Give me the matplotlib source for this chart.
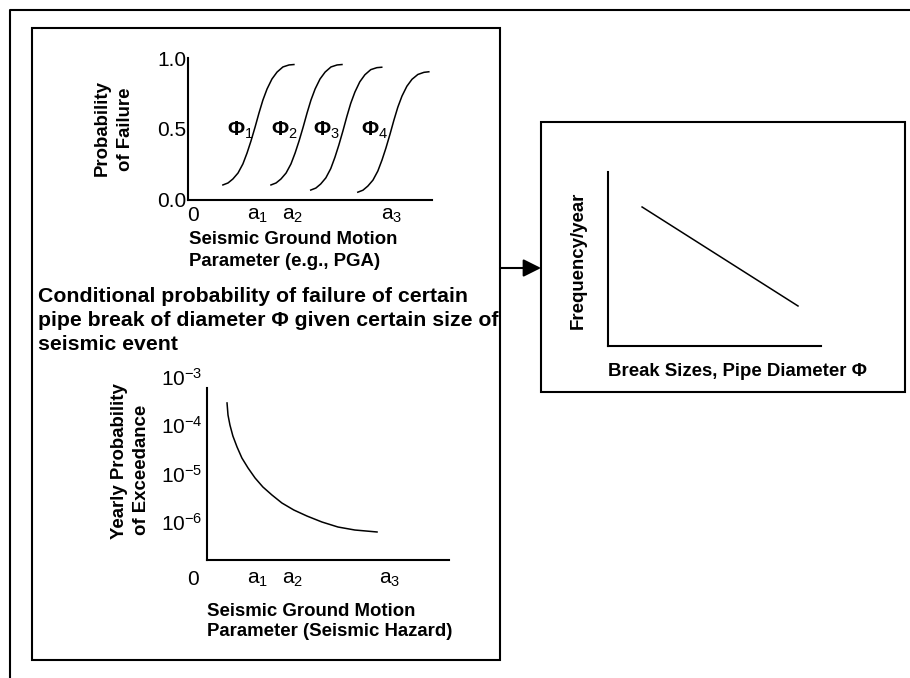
import matplotlib
matplotlib.use('Agg')
import matplotlib.pyplot as plt
from matplotlib.patches import Rectangle
from matplotlib.ticker import NullLocator

plt.rcParams['font.family'] = ['Liberation Sans', 'DejaVu Sans']
plt.rcParams['mathtext.fontset'] = 'custom'
plt.rcParams['mathtext.rm'] = 'Liberation Sans'
plt.rcParams['mathtext.bf'] = 'Liberation Sans:bold'
plt.rcParams['mathtext.it'] = 'Liberation Sans:italic'

# ---------------- data ----------------
# fragility curves: ground motion (arbitrary units) vs probability of failure
phi1_x = [1.43, 1.64, 1.84, 2.05, 2.25, 2.42, 2.58, 2.75, 2.91, 3.07, 3.24, 3.44, 3.65, 3.89, 4.14, 4.34]
phi1_y = [0.106, 0.120, 0.148, 0.190, 0.254, 0.331, 0.415, 0.514, 0.613, 0.704, 0.782, 0.852, 0.901, 0.937, 0.951, 0.954]
phi2_x = [3.40, 3.61, 3.81, 4.02, 4.22, 4.39, 4.55, 4.72, 4.88, 5.04, 5.21, 5.41, 5.62, 5.86, 6.11, 6.31]
phi2_y = [0.106, 0.120, 0.148, 0.190, 0.254, 0.331, 0.415, 0.514, 0.613, 0.704, 0.782, 0.852, 0.901, 0.937, 0.951, 0.954]
phi3_x = [5.03, 5.24, 5.44, 5.65, 5.85, 6.02, 6.18, 6.35, 6.51, 6.67, 6.84, 7.04, 7.25, 7.49, 7.74, 7.94]
phi3_y = [0.070, 0.084, 0.113, 0.156, 0.221, 0.300, 0.386, 0.487, 0.588, 0.681, 0.760, 0.832, 0.882, 0.918, 0.932, 0.935]
phi4_x = [6.96, 7.17, 7.37, 7.58, 7.78, 7.95, 8.11, 8.28, 8.44, 8.60, 8.77, 8.97, 9.18, 9.42, 9.67, 9.87]
phi4_y = [0.055, 0.069, 0.098, 0.140, 0.204, 0.281, 0.365, 0.464, 0.563, 0.654, 0.732, 0.801, 0.850, 0.884, 0.899, 0.903]
phi_labels = [r'$\mathbf{Φ}_1$', r'$\mathbf{Φ}_2$', r'$\mathbf{Φ}_3$', r'$\mathbf{Φ}_4$']
phi_label_x = [2.13, 3.93, 5.69, 7.66]
phi_label_y = [0.49, 0.49, 0.49, 0.49]

top_yticks = [0.0, 0.5, 1.0]
top_yticklabels = ['0.0', '0.5', '1.0']
top_xticks = [0.20, 2.87, 4.30, 8.36]
low_xticks = [0.20, 2.87, 4.30, 8.28]
xticklabels = ['0', r'$\mathrm{a}_1$', r'$\mathrm{a}_2$', r'$\mathrm{a}_3$']

# seismic hazard curve: ground motion vs yearly probability of exceedance
hazard_x = [1.60, 1.64, 1.72, 1.84, 2.01, 2.21, 2.46, 2.75, 3.07, 3.44, 3.85, 4.34, 4.88, 5.49, 6.15, 6.84, 7.75]
hazard_p = [2.90e-4, 1.63e-4, 1.01e-4, 6.0e-5, 3.56e-5, 2.10e-5, 1.31e-5, 8.1e-6, 5.28e-6,
            3.61e-6, 2.46e-6, 1.76e-6, 1.32e-6, 9.95e-7, 7.83e-7, 6.79e-7, 6.18e-7]
hazard_yticks = [1e-3, 1e-4, 1e-5, 1e-6]
hazard_yticklabels = [r'$\mathrm{10}^{\mathrm{-3}}$', r'$\mathrm{10}^{\mathrm{-4}}$',
                      r'$\mathrm{10}^{\mathrm{-5}}$', r'$\mathrm{10}^{\mathrm{-6}}$']

# break frequency line
freq_x = [1.60, 8.92]
freq_y = [7.99, 2.30]

# ---------------- figure ----------------
W, H = 910, 678
fig = plt.figure(figsize=(W / 100, H / 100), dpi=100)
fig.patch.set_facecolor('white')


def px_axes(l, t, r, b):
    ax = fig.add_axes([l / W, 1 - b / H, (r - l) / W, (b - t) / H])
    ax.patch.set_visible(False)
    return ax


# overlay in pixel coordinates for frames and free text
ov = px_axes(0, 0, W, H)
ov.set_xlim(0, W)
ov.set_ylim(H, 0)
ov.axis('off')

LW = 1.5
ov.plot([10, 10, 912], [680, 10, 10], color='black', lw=LW, solid_capstyle='butt')
ov.add_patch(Rectangle((32, 28), 500 - 32, 660 - 28, fill=False, ec='black', lw=LW))
ov.add_patch(Rectangle((541, 122), 905 - 541, 392 - 122, fill=False, ec='black', lw=LW))
ov.annotate('', xy=(541, 268), xytext=(500, 268),
            arrowprops=dict(arrowstyle='-|>', lw=LW, color='black',
                            mutation_scale=27, shrinkA=0, shrinkB=0))

bold = dict(fontweight='bold', color='black')
LS = 13.4
# top chart labels
ov.text(102, 128, 'Probability', rotation=90, ha='center', va='center', fontsize=LS, **bold)
ov.text(125, 129, 'of Failure', rotation=90, ha='center', va='center', fontsize=LS, **bold)
ov.text(189, 240, 'Seismic Ground Motion', ha='left', va='center', fontsize=LS, **bold)
ov.text(189, 262, 'Parameter (e.g., PGA)', ha='left', va='center', fontsize=LS, **bold)

# middle caption
TS = 15.3
ov.text(38, 302, 'Conditional probability of failure of certain', ha='left', va='baseline', fontsize=TS, **bold)
ov.text(38, 326, 'pipe break of diameter Φ given certain size of', ha='left', va='baseline', fontsize=TS, **bold)
ov.text(38, 350, 'seismic event', ha='left', va='baseline', fontsize=TS, **bold)

# lower chart labels
ov.text(120, 461, 'Yearly Probability', rotation=90, ha='center', va='center', fontsize=LS, **bold)
ov.text(142, 470, 'of Exceedance', rotation=90, ha='center', va='center', fontsize=LS, **bold)
ov.text(207, 612, 'Seismic Ground Motion', ha='left', va='center', fontsize=LS, **bold)
ov.text(207, 632, 'Parameter (Seismic Hazard)', ha='left', va='center', fontsize=LS, **bold)

# right chart labels
ov.text(578, 260, 'Frequency/year', rotation=90, ha='center', va='center', fontsize=LS, **bold)
ov.text(608, 371, 'Break Sizes, Pipe Diameter Φ', ha='left', va='center', fontsize=LS, **bold)


def style(ax):
    for s in ['top', 'right']:
        ax.spines[s].set_visible(False)
    for s in ['left', 'bottom']:
        ax.spines[s].set_linewidth(LW)


# ---- top: fragility curves ----
ax1 = px_axes(188, 58, 432, 200)
style(ax1)
ax1.set_xlim(0, 10)
ax1.set_ylim(0, 1)
for xs, ys in [(phi1_x, phi1_y), (phi2_x, phi2_y), (phi3_x, phi3_y), (phi4_x, phi4_y)]:
    ax1.plot(xs, ys, color='black', lw=1.1, solid_joinstyle='round')
for lab, lx, ly in zip(phi_labels, phi_label_x, phi_label_y):
    ax1.text(lx, ly, lab, ha='center', va='center', fontsize=15)
ax1.set_yticks(top_yticks)
ax1.set_yticklabels(top_yticklabels)
ax1.set_xticks(top_xticks)
ax1.set_xticklabels(xticklabels)
ax1.tick_params(axis='y', length=0, pad=1, labelsize=15)
ax1.tick_params(axis='x', length=0, pad=4, labelsize=15)

# ---- lower: hazard curve ----
ax2 = px_axes(188, 368, 449, 560)
style(ax2)
ax2.set_yscale('log')
ylo, yhi = 10 ** -6.789, 10 ** -2.814
ax2.set_ylim(ylo, yhi)
ax2.set_xlim(0, 10.7)
ax2.spines['left'].set_position(('data', 0.78))
ax2.spines['left'].set_bounds(ylo, 10 ** -3.228)
ax2.spines['bottom'].set_bounds(0.78, 10.7)
ax2.plot(hazard_x, hazard_p, color='black', lw=1.1, solid_joinstyle='round')
ax2.yaxis.set_minor_locator(NullLocator())
ax2.set_yticks(hazard_yticks)
ax2.set_yticklabels(hazard_yticklabels)
ax2.set_xticks(low_xticks)
ax2.set_xticklabels(xticklabels)
ax2.tick_params(axis='y', length=0, pad=3, labelsize=15)
ax2.tick_params(axis='x', length=0, pad=7, labelsize=15)

# ---- right: frequency vs break size ----
ax3 = px_axes(608, 172, 821, 346)
style(ax3)
ax3.set_xlim(0, 10)
ax3.set_ylim(0, 10)
ax3.plot(freq_x, freq_y, color='black', lw=1.1)
ax3.set_xticks([])
ax3.set_yticks([])

fig.savefig('out.png', dpi=100, facecolor='white')
